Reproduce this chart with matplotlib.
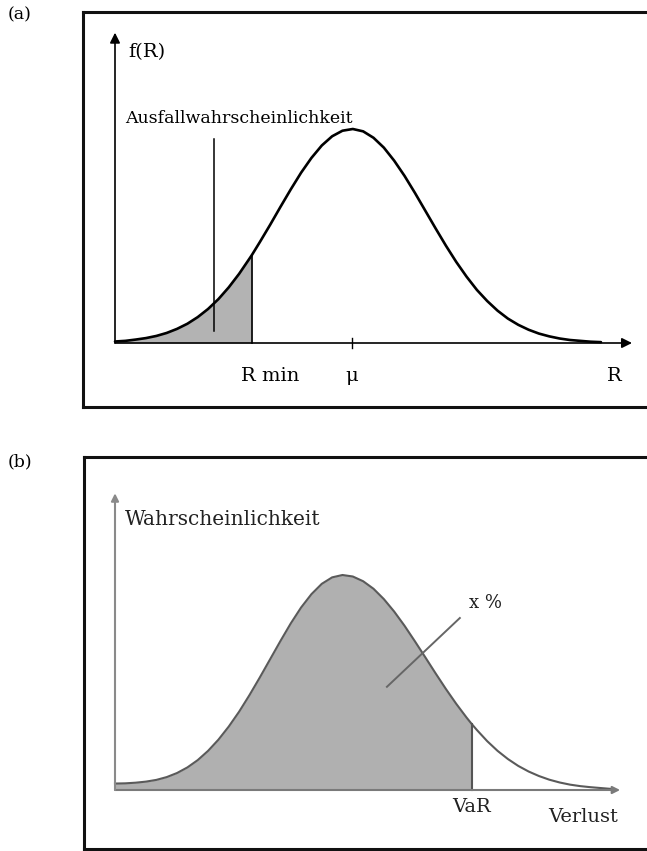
import matplotlib
matplotlib.use("Agg")
import matplotlib.pyplot as plt
import numpy as np

plt.rcParams["font.family"] = ["DejaVu Serif"]

# (a) Dichte f(R) (Maximum = 1)
a_x = [0.0, 0.2, 0.4, 0.6, 0.8, 1.0, 1.2, 1.4, 1.6, 1.8,
       2.0, 2.2, 2.4, 2.6, 2.65, 2.8, 3.0, 3.2, 3.4, 3.6,
       3.8, 4.0, 4.2, 4.4, 4.6, 4.8, 5.0, 5.2, 5.4, 5.6,
       5.8, 6.0, 6.2, 6.4, 6.6, 6.8, 7.0, 7.2, 7.4, 7.6,
       7.8, 8.0, 8.2, 8.4, 8.6, 8.8, 9.0, 9.2, 9.4]
a_y = [0.007, 0.010, 0.016, 0.023, 0.033, 0.047, 0.066, 0.090, 0.121, 0.159,
       0.205, 0.260, 0.323, 0.394, 0.412, 0.471, 0.552, 0.636, 0.718, 0.796,
       0.865, 0.923, 0.966, 0.992, 1.000, 0.989, 0.959, 0.913, 0.852, 0.781,
       0.702, 0.619, 0.536, 0.455, 0.379, 0.310, 0.248, 0.196, 0.151, 0.114,
       0.085, 0.062, 0.044, 0.031, 0.021, 0.014, 0.010, 0.006, 0.004]
R_MIN = 2.65
MU = 4.58
a_labels = ["R min", "\u03bc", "R"]
a_label_x = [3.0, MU, 9.65]

# (b) Verlustverteilung
b_x = [0.0, 0.2, 0.4, 0.6, 0.8, 1.0, 1.2, 1.4, 1.6, 1.8,
       2.0, 2.2, 2.4, 2.6, 2.8, 3.0, 3.2, 3.4, 3.6, 3.8,
       4.0, 4.2, 4.4, 4.6, 4.8, 5.0, 5.2, 5.4, 5.6, 5.8,
       6.0, 6.2, 6.4, 6.6, 6.8, 6.9, 7.0, 7.2, 7.4, 7.6,
       7.8, 8.0, 8.2, 8.4, 8.6, 8.8, 9.0, 9.2, 9.4, 9.6]
b_y = [0.030, 0.031, 0.034, 0.039, 0.047, 0.060, 0.079, 0.105, 0.139, 0.182,
       0.234, 0.295, 0.364, 0.441, 0.523, 0.608, 0.693, 0.775, 0.849, 0.911,
       0.959, 0.989, 1.000, 0.993, 0.971, 0.936, 0.888, 0.830, 0.764, 0.692,
       0.618, 0.543, 0.470, 0.401, 0.337, 0.307, 0.279, 0.227, 0.182, 0.144,
       0.112, 0.086, 0.065, 0.048, 0.035, 0.025, 0.018, 0.013, 0.009, 0.005]
VAR = 6.9

W, H = 647, 851


def _box_axes(fig, left, top, bottom, x0px, y0px, sx, sy):
    """Achse, deren Rand den Rahmen bildet (rechts offen, ausserhalb des Bildes)."""
    right = 700
    ax = fig.add_axes([left / W, 1 - bottom / H, (right - left) / W, (bottom - top) / H])
    ax.set_xlim((left - x0px) / sx, (right - x0px) / sx)
    ax.set_ylim((y0px - bottom) / sy, (y0px - top) / sy)
    ax.set_xticks([])
    ax.set_yticks([])
    ax.spines["right"].set_visible(False)
    for s in ("left", "top", "bottom"):
        ax.spines[s].set_linewidth(2.2)
        ax.spines[s].set_color("#111111")
    return ax


def _pfeil(ax, start, ende, farbe, lw, ms):
    ax.annotate("", xy=ende, xytext=start,
                arrowprops=dict(arrowstyle="-|>", color=farbe, lw=lw,
                                mutation_scale=ms, shrinkA=0, shrinkB=0))


fig = plt.figure(figsize=(W / 100, H / 100), dpi=100)

# ---------- (a) ----------
ax = _box_axes(fig, 83, 12, 407, 115, 343, 51.7, 214)
ax_x = np.array(a_x)
ax_y = np.array(a_y)
maske = ax_x <= R_MIN
ax.fill_between(ax_x[maske], 0, ax_y[maske], color="#b3b3b3", lw=0)
ax.plot([R_MIN, R_MIN], [0, ax_y[maske][-1]], color="black", lw=1.2)
ax.plot(ax_x, ax_y, color="black", lw=1.9, solid_capstyle="round")
_pfeil(ax, (0, 0), (10.0, 0), "black", 1.2, 15)
_pfeil(ax, (0, 0), (0, 1.45), "black", 1.2, 15)
ax.plot([MU, MU], [-0.022, 0.022], color="black", lw=1)
ax.plot([1.91, 1.91], [0.056, 0.953], color="black", lw=1.1)
ax.text(0.25, 1.36, "f(R)", fontsize=14, ha="left", va="center")
ax.text(0.19, 1.05, "Ausfallwahrscheinlichkeit", fontsize=12.5, ha="left", va="center")
for lab, xl in zip(a_labels, a_label_x):
    ax.text(xl, -0.155, lab, fontsize=14, ha="center", va="center")

# ---------- (b) ----------
bx = _box_axes(fig, 84, 457, 849, 115, 790, 51.7, 215)
b_xa = np.array(b_x)
b_ya = np.array(b_y)
maske = b_xa <= VAR
bx.fill_between(b_xa[maske], 0, b_ya[maske], color="#b0b0b0", lw=0)
bx.plot(b_xa, b_ya, color="#5a5a5a", lw=1.5)
bx.plot([VAR, VAR], [0, b_ya[maske][-1]], color="#555555", lw=1.5)
_pfeil(bx, (0, 0), (9.77, 0), "#7a7a7a", 1.5, 11)
_pfeil(bx, (0, 0), (0, 1.38), "#8a8a8a", 1.5, 11)
bx.plot([5.26, 6.67], [0.48, 0.80], color="#666666", lw=1.4)
bx.text(0.19, 1.26, "Wahrscheinlichkeit", fontsize=14.5, ha="left", va="center", color="#222222")
bx.text(7.16, 0.87, "x %", fontsize=13, ha="center", va="center", color="#222222")
bx.text(VAR, -0.08, "VaR", fontsize=14, ha="center", va="center", color="#222222")
bx.text(9.05, -0.126, "Verlust", fontsize=14, ha="center", va="center", color="#222222")

fig.text(8 / W, 1 - 15 / H, "(a)", fontsize=12.5, ha="left", va="center")
fig.text(8 / W, 1 - 462 / H, "(b)", fontsize=12.5, ha="left", va="center")

fig.savefig("out.png", dpi=100)
